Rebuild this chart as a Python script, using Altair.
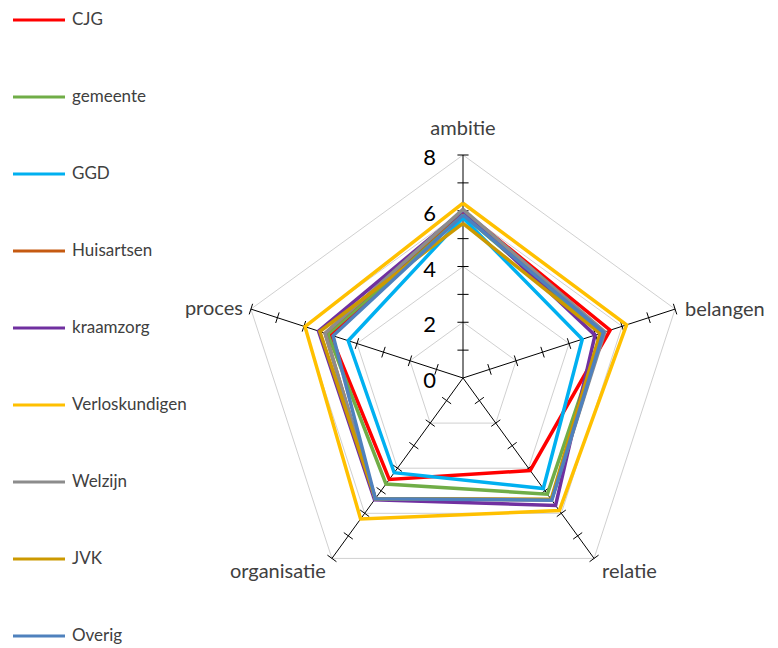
import altair as alt
import pandas as pd

# ---- data ----
axis_names = ["ambitie", "belangen", "relatie", "organisatie", "proces"]
series = ["CJG", "gemeente", "GGD", "Huisartsen", "kraamzorg",
          "Verloskundigen", "Welzijn", "JVK", "Overig"]
colors = ["#FF0000", "#70AD47", "#00B0F0", "#C55A11", "#7030A0",
          "#FFC000", "#8C8C8C", "#CC9900", "#4F81BD"]

cjg = [6.0, 5.55, 4.1, 4.5, 5.0]
gemeente = [5.85, 5.23, 5.15, 4.7, 5.1]
ggd = [5.75, 4.5, 4.9, 4.2, 4.33]
huisartsen = [6.0, 5.3, 5.4, 5.35, 5.2]
kraamzorg = [6.0, 4.98, 5.65, 5.4, 5.45]
verloskundigen = [6.27, 6.17, 5.88, 6.25, 5.96]
welzijn = [6.05, 5.35, 5.4, 5.35, 5.2]
jvk = [5.55, 5.17, 5.38, 5.35, 5.4]
overig = [5.85, 5.3, 5.42, 5.35, 4.9]
series_values = [cjg, gemeente, ggd, huisartsen, kraamzorg,
                 verloskundigen, welzijn, jvk, overig]

grid_levels = [2, 4, 6, 8]
tick_values = [1, 2, 3, 4, 5, 6, 7, 8]
number_labels = [0, 2, 4, 6, 8]
r_max = 8

# ---- layout constants ----
W, H = 762, 640
PX = 223 / 8.0          # pixels per unit
CX, CY = 455, 370       # centre in plot coords
xdom = [-CX / PX, (W - CX) / PX]
ydom = [-(H - CY) / PX, CY / PX]
xs = alt.Scale(domain=xdom, nice=False, zero=False)
ys = alt.Scale(domain=ydom, nice=False, zero=False)
FONT = "Lato"

ANG = "datum.k * 2 * PI / 5"

def polar(ch):
    return ch.transform_calculate(
        ang=ANG,
        px="datum.v * sin(datum.ang)",
        py="datum.v * cos(datum.ang)",
    )

X = alt.X("px:Q", scale=xs, axis=None)
Y = alt.Y("py:Q", scale=ys, axis=None)

# grid pentagons
grid_rows = [{"level": L, "k": k, "v": L} for L in grid_levels for k in range(6)]
grid = polar(alt.Chart(pd.DataFrame(grid_rows))).mark_line(
    color="#D0D0D0", strokeWidth=1
).encode(x=X, y=Y, detail="level:N", order="k:Q")

# spokes
spoke_rows = [{"k": k, "v": r_max} for k in range(5)]
spokes = alt.Chart(pd.DataFrame(spoke_rows)).transform_calculate(
    ang=ANG,
    px="datum.v * sin(datum.ang)",
    py="datum.v * cos(datum.ang)",
    ox="0", oy="0",
).mark_rule(color="black", strokeWidth=1).encode(
    x=alt.X("ox:Q", scale=xs, axis=None), y=alt.Y("oy:Q", scale=ys, axis=None),
    x2="px:Q", y2="py:Q")

# tick marks
h = 0.2
tick_rows = [{"k": k, "v": t} for k in range(5) for t in tick_values]
ticks = alt.Chart(pd.DataFrame(tick_rows)).transform_calculate(
    ang=ANG,
    ax=f"datum.v * sin(datum.ang) + {h} * cos(datum.ang)",
    ay=f"datum.v * cos(datum.ang) - {h} * sin(datum.ang)",
    bx=f"datum.v * sin(datum.ang) - {h} * cos(datum.ang)",
    by=f"datum.v * cos(datum.ang) + {h} * sin(datum.ang)",
).mark_rule(color="black", strokeWidth=1).encode(
    x=alt.X("ax:Q", scale=xs, axis=None), y=alt.Y("ay:Q", scale=ys, axis=None),
    x2="bx:Q", y2="by:Q")

# series lines
line_layers = []
for name, col, vals in zip(series, colors, series_values):
    rows = [{"series": name, "k": k, "v": vals[k % 5]} for k in range(6)]
    line_layers.append(
        polar(alt.Chart(pd.DataFrame(rows))).mark_line(
            color=col, strokeWidth=3.5, strokeJoin="miter"
        ).encode(x=X, y=Y, order="k:Q")
    )

# axis numbers
num_df = pd.DataFrame({"v": number_labels, "k": [0] * len(number_labels)})
numbers = polar(alt.Chart(num_df)).mark_text(
    align="right", baseline="middle", dx=-27, dy=3, fontSize=22, font=FONT, color="black"
).encode(x=X, y=Y, text="v:Q")

# category labels
def cat_label(idx, r, align, dx, dy):
    df = pd.DataFrame({"k": [idx], "v": [r], "name": [axis_names[idx]]})
    return polar(alt.Chart(df)).mark_text(
        align=align, baseline="middle", dx=dx, dy=dy, fontSize=20, font=FONT, color="#404040"
    ).encode(x=X, y=Y, text="name:N")

labels = [
    cat_label(0, 8, "center", 0, -26),
    cat_label(1, 8, "left", 10, 1),
    cat_label(2, 8, "left", 8, 14),
    cat_label(3, 8, "right", -6, 14),
    cat_label(4, 8, "right", -8, 0),
]

# legend (manual)
leg_df = pd.DataFrame({"series": series, "i": list(range(len(series)))})
LEG_Y = f"({CY} - (12 + datum.i * 77.0)) / {PX}"
leg_lines = alt.Chart(leg_df).transform_calculate(ly=LEG_Y).mark_rule(
    strokeWidth=3
).encode(
    x=alt.value(5), x2=alt.value(57),
    y=alt.Y("ly:Q", scale=ys, axis=None),
    color=alt.Color("series:N", scale=alt.Scale(domain=series, range=colors), legend=None),
)
leg_text = alt.Chart(leg_df).transform_calculate(ly=LEG_Y).mark_text(
    align="left", baseline="middle", fontSize=17, font=FONT, color="#404040"
).encode(
    x=alt.value(64), y=alt.Y("ly:Q", scale=ys, axis=None), text="series:N"
)

chart = alt.layer(
    grid, spokes, ticks, *line_layers, numbers, *labels, leg_lines, leg_text
).properties(
    width=W, height=H, autosize=alt.AutoSizeParams(type="none"), padding=0
).configure_view(stroke=None)

chart.save("out.html", embed_options={"renderer": "svg", "actions": False})
